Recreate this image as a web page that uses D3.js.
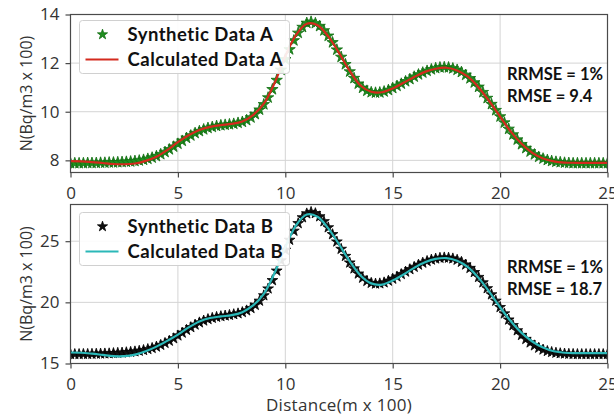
<!DOCTYPE html>
<html>
<head>
<meta charset="utf-8">
<script src="https://cdn.jsdelivr.net/npm/d3@7"></script>
<style>
  html, body { margin: 0; padding: 0; background: #fff; }
  svg { display: block; }
</style>
</head>
<body>
<svg id="chart" width="614" height="418"></svg>
<script>
// Distance samples (m x 100)
const xSynthetic = d3.range(0, 126).map(i => i * 0.2);
const xCalculated = d3.range(0, 51).map(i => i * 0.5);

// Panel A: synthetic concentration profile (every 0.2)
const syntheticA = [
  7.88, 7.88, 7.88, 7.88, 7.89, 7.89, 7.89, 7.90, 7.90, 7.91,
  7.91, 7.92, 7.93, 7.94, 7.95, 7.97, 7.99, 8.02, 8.06, 8.11,
  8.17, 8.25, 8.34, 8.45, 8.56, 8.68, 8.80, 8.92, 9.02, 9.12,
  9.20, 9.27, 9.33, 9.37, 9.41, 9.44, 9.46, 9.48, 9.50, 9.54,
  9.58, 9.65, 9.76, 9.90, 10.08, 10.30, 10.58, 10.92, 11.30, 11.72,
  12.15, 12.56, 12.93, 13.24, 13.48, 13.65, 13.70, 13.64, 13.52, 13.34,
  13.12, 12.85, 12.55, 12.25, 11.95, 11.65, 11.38, 11.15, 10.98, 10.86,
  10.80, 10.78, 10.79, 10.83, 10.89, 10.97, 11.06, 11.15, 11.25, 11.34,
  11.44, 11.53, 11.61, 11.68, 11.74, 11.79, 11.82, 11.83, 11.82, 11.78,
  11.72, 11.63, 11.51, 11.37, 11.20, 11.02, 10.80, 10.56, 10.31, 10.06,
  9.80, 9.55, 9.29, 9.06, 8.85, 8.66, 8.50, 8.36, 8.24, 8.14,
  8.07, 8.01, 7.97, 7.94, 7.92, 7.90, 7.89, 7.88, 7.88, 7.88,
  7.88, 7.88, 7.88, 7.88, 7.88, 7.88
];
// Panel A: calculated profile (every 0.5)
const calculatedA = [
  7.97, 7.96, 7.93, 7.89, 7.85, 7.84, 7.87, 7.98, 8.15, 8.42, 8.75, 9.03, 9.25, 9.38, 9.45, 9.50,
  9.60, 9.86, 10.33, 11.18, 12.28, 13.16, 13.62, 13.56, 13.10, 12.42, 11.68, 11.08, 10.82, 10.80, 10.96, 11.19,
  11.43, 11.64, 11.77, 11.81, 11.70, 11.44, 11.00, 10.43, 9.80, 9.18, 8.68, 8.31, 8.08, 7.96, 7.91, 7.90,
  7.90, 7.90, 7.90
];

// Panel B: synthetic concentration profile (every 0.2)
const syntheticB = [
  15.76, 15.76, 15.76, 15.77, 15.77, 15.78, 15.79, 15.80, 15.81, 15.82,
  15.84, 15.86, 15.88, 15.91, 15.94, 15.98, 16.03, 16.09, 16.17, 16.26,
  16.37, 16.51, 16.67, 16.85, 17.05, 17.28, 17.51, 17.74, 17.96, 18.17,
  18.35, 18.50, 18.62, 18.72, 18.80, 18.86, 18.91, 18.96, 19.02, 19.09,
  19.19, 19.33, 19.52, 19.78, 20.12, 20.56, 21.12, 21.80, 22.58, 23.42,
  24.28, 25.10, 25.84, 26.46, 26.94, 27.26, 27.38, 27.28, 27.02, 26.62,
  26.12, 25.56, 24.96, 24.36, 23.78, 23.24, 22.76, 22.34, 22.00, 21.74,
  21.58, 21.52, 21.54, 21.62, 21.76, 21.92, 22.10, 22.30, 22.50, 22.70,
  22.89, 23.07, 23.23, 23.37, 23.48, 23.57, 23.63, 23.66, 23.64, 23.58,
  23.47, 23.30, 23.08, 22.80, 22.46, 22.06, 21.62, 21.14, 20.64, 20.12,
  19.60, 19.08, 18.58, 18.12, 17.70, 17.32, 16.99, 16.71, 16.47, 16.28,
  16.13, 16.01, 15.93, 15.87, 15.83, 15.80, 15.78, 15.77, 15.76, 15.76,
  15.76, 15.76, 15.76, 15.76, 15.76, 15.76
];
// Panel B: calculated profile (every 0.5)
const calculatedB = [
  15.90, 15.88, 15.80, 15.70, 15.60, 15.60, 15.72, 16.00, 16.38, 16.85, 17.36, 17.95, 18.44, 18.72, 18.85, 18.95,
  19.20, 19.75, 20.70, 22.40, 24.50, 26.30, 27.18, 27.00, 26.05, 24.75, 23.35, 22.20, 21.55, 21.45, 21.78, 22.28,
  22.82, 23.27, 23.55, 23.62, 23.40, 22.88, 22.00, 20.85, 19.60, 18.45, 17.50, 16.80, 16.30, 16.00, 15.88, 15.85,
  15.85, 15.85, 15.85
];

const xTicks = [0, 5, 10, 15, 20, 25];
const yTicksA = [8, 10, 12, 14];
const yTicksB = [15, 20, 25];

const legendA = ["Synthetic Data A", "Calculated Data A"];
const legendB = ["Synthetic Data B", "Calculated Data B"];
const statsA = ["RRMSE = 1%", "RMSE = 9.4"];
const statsB = ["RRMSE = 1%", "RMSE = 18.7"];

const svg = d3.select("#chart");
const tickFont = "'Open Sans', 'DejaVu Sans', sans-serif";
const boldFont = "Lato, 'Open Sans', sans-serif";

const left = 70.5, right = 607.5;
const x = d3.scaleLinear().domain([0, 25]).range([left, right]);

function panel(cfg) {
  const y = d3.scaleLinear().domain(cfg.yDomain).range([cfg.bottom, cfg.top]);
  const g = svg.append("g");
  const clipId = "clip-" + cfg.id;
  svg.append("clipPath").attr("id", clipId)
    .append("rect").attr("x", left).attr("y", cfg.top).attr("width", right - left).attr("height", cfg.bottom - cfg.top);

  // grid
  g.append("g").selectAll("line").data(xTicks.slice(1, -1)).join("line")
    .attr("x1", d => x(d)).attr("x2", d => x(d)).attr("y1", cfg.top).attr("y2", cfg.bottom)
    .attr("stroke", "#d4d4d4").attr("stroke-width", 1);
  g.append("g").selectAll("line").data(cfg.yTicks.filter(t => t > cfg.yDomain[0] && t < cfg.yDomain[1])).join("line")
    .attr("x1", left).attr("x2", right).attr("y1", d => y(d)).attr("y2", d => y(d))
    .attr("stroke", "#d4d4d4").attr("stroke-width", 1);

  const data = g.append("g").attr("clip-path", `url(#${clipId})`);
  const star = d3.symbol().type(d3.symbolStar).size(cfg.starSize);
  data.selectAll("path.star").data(xSynthetic.map((d, i) => [d, cfg.synthetic[i]])).join("path")
    .attr("class", "star")
    .attr("d", star)
    .attr("transform", d => `translate(${x(d[0])},${y(d[1])})`)
    .attr("fill", cfg.starFill).attr("stroke", cfg.starStroke).attr("stroke-width", 0.8);

  const line = d3.line().x(d => x(d[0])).y(d => y(d[1])).curve(d3.curveCatmullRom.alpha(0.5));
  data.append("path").datum(xCalculated.map((d, i) => [d, cfg.calculated[i]]))
    .attr("d", line).attr("fill", "none").attr("stroke", cfg.lineColor).attr("stroke-width", 2.2);

  // frame
  g.append("rect").attr("x", left).attr("y", cfg.top).attr("width", right - left).attr("height", cfg.bottom - cfg.top)
    .attr("fill", "none").attr("stroke", "#4a4a4a").attr("stroke-width", 1.2);

  // axes
  const xAxis = d3.axisBottom(x).tickValues(xTicks).tickSize(5).tickPadding(9).tickFormat(d3.format("d"));
  const ax = g.append("g").attr("transform", `translate(0,${cfg.bottom})`).call(xAxis);
  const yAxis = d3.axisLeft(y).tickValues(cfg.yTicks).tickSize(5).tickPadding(6).tickFormat(d3.format("d"));
  const ay = g.append("g").attr("transform", `translate(${left},0)`).call(yAxis);
  [ax, ay].forEach(a => {
    a.select(".domain").remove();
    a.selectAll(".tick line").attr("stroke", "#4a4a4a").attr("stroke-width", 1.2);
    a.selectAll(".tick text").attr("fill", "#333").style("font-family", tickFont).style("font-size", "17px");
  });

  // y label
  g.append("text")
    .attr("transform", `translate(26,${(cfg.top + cfg.bottom) / 2}) rotate(-90)`)
    .attr("text-anchor", "middle").attr("dominant-baseline", "central")
    .style("font-family", tickFont).style("font-size", "16px").attr("fill", "#333")
    .text("N(Bq/m3 x 100)");

  // legend
  const lg = g.append("g").attr("transform", `translate(79.5,${cfg.legendTop})`);
  lg.append("rect").attr("width", 210).attr("height", 53).attr("rx", 3)
    .attr("fill", "#fff").attr("fill-opacity", 0.9).attr("stroke", "#d0d0d0");
  lg.append("path").attr("d", d3.symbol().type(d3.symbolStar).size(32))
    .attr("transform", "translate(23,14)").attr("fill", cfg.starFill).attr("stroke", cfg.starStroke).attr("stroke-width", 0.8);
  lg.append("line").attr("x1", 6).attr("x2", 39).attr("y1", 39).attr("y2", 39)
    .attr("stroke", cfg.lineColor).attr("stroke-width", 2.2);
  lg.selectAll("text").data(cfg.legend).join("text")
    .attr("x", 48).attr("y", (d, i) => 20 + i * 25)
    .style("font-family", boldFont).style("font-size", "18.5px").style("font-weight", "bold")
    .style("letter-spacing", "0.5px").attr("fill", "#111")
    .text(d => d);

  // stats
  g.append("g").selectAll("text").data(cfg.stats).join("text")
    .attr("x", 507).attr("y", (d, i) => cfg.statsY + i * 22)
    .style("font-family", boldFont).style("font-size", "16.5px").style("font-weight", "bold").attr("fill", "#111")
    .text(d => d);
  return g;
}

panel({
  id: "a", top: 14.5, bottom: 172.5, yDomain: [7.5, 14], yTicks: yTicksA,
  synthetic: syntheticA, calculated: calculatedA,
  starFill: "#1f8f1f", starStroke: "#106c10", starSize: 40, lineColor: "#d42a1e",
  legend: legendA, legendTop: 20.5, stats: statsA, statsY: 80
});
panel({
  id: "b", top: 204.5, bottom: 363.5, yDomain: [15, 28], yTicks: yTicksB,
  synthetic: syntheticB, calculated: calculatedB,
  starFill: "#111", starStroke: "#000", starSize: 36, lineColor: "#2bb8b8",
  legend: legendB, legendTop: 212.5, stats: statsB, statsY: 273
});

svg.append("text").attr("x", (left + right) / 2).attr("y", 411)
  .attr("text-anchor", "middle")
  .style("font-family", tickFont).style("font-size", "17px").style("letter-spacing", "0.3px").attr("fill", "#333")
  .text("Distance(m x 100)");
</script>
</body>
</html>
